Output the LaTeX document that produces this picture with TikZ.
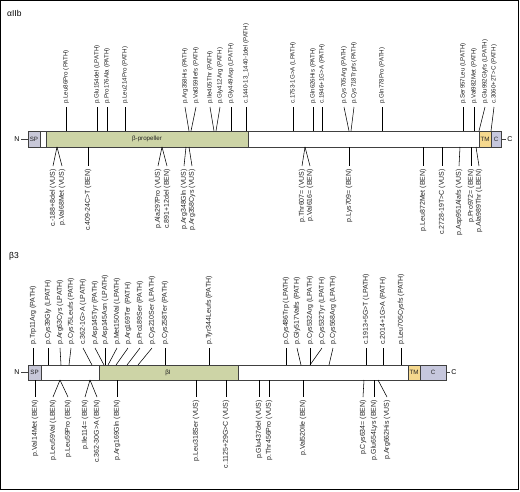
\documentclass[tikz,border=0pt]{standalone}
\usepackage{fontspec}
\setmainfont{Liberation Sans}
\usetikzlibrary{calc}
\definecolor{spcol}{HTML}{C8C8D8}
\definecolor{greencol}{HTML}{CDD4A6}
\definecolor{tmcol}{HTML}{F5D88E}
\definecolor{ccol}{HTML}{C6C7DD}
\definecolor{barline}{HTML}{404040}
\definecolor{txtcol}{HTML}{222222}
\begin{document}
\begin{tikzpicture}[x=1pt,y=-1pt,
  lab/.style={font=\fontsize{7}{8}\selectfont, text=txtcol, rotate=90, inner sep=0pt, inner xsep=3pt},
  smalllab/.style={lab, font=\fontsize{6.2}{7}\selectfont},
  toplab/.style={lab, anchor=west},
  atoplab/.style={smalllab, anchor=west},
  botlab/.style={lab, anchor=east},
  conn/.style={draw=black, line width=0.55pt},
  seg/.style={draw=barline, line width=0.6pt},
  boxtxt/.style={font=\fontsize{6.2}{7}\selectfont, text=txtcol, inner sep=0pt},
  endtxt/.style={font=\fontsize{7}{8}\selectfont, inner sep=0pt},
  title/.style={font=\fontsize{8.5}{9}\selectfont, anchor=west, inner sep=0pt}]
\useasboundingbox (0,0) rectangle (520,491);
\draw[line width=1pt] (0.5,0.5) rectangle (518,489);
% ---------- alpha IIb ----------
\node[title] (ta) at (7,13) {αIIb};
\node[endtxt] (na) at (17,139) {N};
\node[endtxt] (ca) at (510,139) {C};
\draw[seg,fill=spcol] (28,131) rectangle (40,147);
\draw[seg,fill=white] (40,131) rectangle (46,147);
\draw[seg,fill=greencol] (46,131) rectangle (248,147);
\draw[seg,fill=white] (248,131) rectangle (479,147);
\draw[seg,fill=tmcol] (479,131) rectangle (491,147);
\draw[seg,fill=ccol] (491,131) rectangle (501,147);
\node[boxtxt] (spa) at (34,139) {SP};
\node[boxtxt] (bpa) at (147,139) {β-propeller};
\node[boxtxt] (tma) at (485,139) {TM};
\node[boxtxt] (cba) at (496,139) {C};
\coordinate (nae) at (28,139);
\coordinate (cae) at (501,139);
\draw[seg] ($(na.east)+(1.5,0)$) -- (nae);
\draw[seg] (cae) -- ($(ca.west)+(-1.5,0)$);
\foreach \bx/\lx/\t [count=\i] in {
 66/66/p.Leu86Pro (PATH),
 97/97/p.Glu154del (LPATH),
 107/107/p.Pro176Ala (PATH),
 125/125/p.Leu214Pro (PATH),
 189/185/p.Arg358His (PATH),
 191/196/p.Val359Ilefs (PATH),
 214/210/p.Ile405Thr (PATH),
 216/220/p.Gly412Arg (PATH),
 231/231/p.Gly449Asp (LPATH),
 246/246/c.1440-13\_1440-1del (PATH),
 293/293/c.1753-1G>A (LPATH),
 313/313/p.Gln626His (PATH),
 322/322/c.1946+1G>A (PATH),
 349/344/p.Cys705Arg (PATH),
 351/354/p.Cys718Trpfs (PATH),
 382/382/p.Gln778Pro (PATH),
 463/463/p.Ser957Leu (LPATH),
 474/474/p.Val982Met (PATH),
 479/485/p.Glu992Glyfs (LPATH),
 491/494/c.3060+2T>C (PATH)}{
  \coordinate (atb\i) at (\bx,131);
  \node[atoplab] (atl\i) at (\lx,107) {\t};
  \draw[conn] (atb\i) -- (atl\i.west);
}
\foreach \bx/\lx/\t [count=\i] in {
 57/53/c.-188+8del (VUS),
 57/62/p.Val68Met (VUS),
 88/88/c.409-24C>T (BEN),
 162/158/p.Ala297Pro (VUS),
 162/167/c.891+12del (BEN),
 186/184/p.Arg348Gln (VUS),
 189/192/p.Arg358Cys (VUS),
 305/302/p.Thr607= (VUS),
 305/310/p.Val616= (BEN),
 349/349/p.Lys709= (BEN),
 423/423/p.Leu872Met (BEN),
 442/442/c.2728-19T>C (VUS),
 460/459/p.Asp951Alafs (VUS),
 471/471/p.Pro972= (BEN),
 476/479/p.Ala989Thr (LBEN)}{
  \coordinate (abb\i) at (\bx,147);
  \node[botlab] (abl\i) at (\lx,166) {\t};
  \draw[conn] (abb\i) -- (abl\i.east);
}
% ---------- beta 3 ----------
\node[title] (tb) at (9,256) {β3};
\node[endtxt] (nb) at (17,372) {N};
\node[endtxt] (cb) at (454,372) {C};
\draw[seg,fill=spcol] (28,365) rectangle (41,380);
\draw[seg,fill=white] (41,365) rectangle (99,380);
\draw[seg,fill=greencol] (99,365) rectangle (238,380);
\draw[seg,fill=white] (238,365) rectangle (408,380);
\draw[seg,fill=tmcol] (408,365) rectangle (420,380);
\draw[seg,fill=ccol] (420,365) rectangle (446,380);
\node[boxtxt] (spb) at (34.5,372.5) {SP};
\node[boxtxt] (bib) at (168,372.5) {βI};
\node[boxtxt] (tmb) at (414,372.5) {TM};
\node[boxtxt] (cbb) at (433,372.5) {C};
\coordinate (nbe) at (28,372);
\coordinate (cbe) at (446,372);
\draw[seg] ($(nb.east)+(1.5,0)$) -- (nbe);
\draw[seg] (cbe) -- ($(cb.west)+(-1.5,0)$);
\foreach \bx/\lx/\t [count=\i] in {
 33/33/p.Trp11Arg (PATH),
 48/48/p.Cys39Gly (LPATH),
 61/60/p.Arg63Cys (LPATH),
 69/71/p.Cys75Leufs (PATH),
 92/83/c.362-1G>A (LPATH),
 104/95/p.Asp145Tyr (PATH),
 105/105/p.Asp145Asn (LPATH),
 108/117/p.Met150Val (LPATH),
 116/128/p.Arg169Ter (PATH),
 127/140/p.Pro189Ser (PATH),
 138/152/p.Cys210Ser (LPATH),
 165/165/p.Cys258Ter (PATH),
 209/209/p.Tyr344Leufs (PATH),
 286/286/p.Cys486Trp (LPATH),
 301/297/p.Gly517Valfs (PATH),
 310/310/p.Cys532Arg (LPATH),
 310/322/p.Cys532Tyr (LPATH),
 329/333/p.Cys568Arg (LPATH),
 366/366/c.1913+5G>T (LPATH),
 383/383/c.2014+1G>A (PATH),
 401/401/p.Leu705Cysfs (PATH)}{
  \coordinate (btb\i) at (\bx,365);
  \node[toplab] (btl\i) at (\lx,348) {\t};
  \draw[conn] (btb\i) -- (btl\i.west);
}
\foreach \bx/\lx/\t [count=\i] in {
 35/35/p.Val14Met (BEN),
 60/53/p.Leu59Val (LBEN),
 60/68/p.Leu59Pro (BEN),
 90/85/p.Ile114= (BEN),
 90/97/c.362-30G>A (BEN),
 117/117/p.Arg169Gln (BEN),
 196/196/p.Leu318Ser (VUS),
 226/226/c.1125+29G>C (VUS),
 259/259/p.Glu437del (VUS),
 269/269/p.Thr456Pro (VUS),
 303/303/p.Val520Ile (BEN),
 364/363/p.Cys634= (BEN),
 374/374/p.Glu654Lys (BEN),
 378/387/p.Arg662His (VUS)}{
  \coordinate (bbb\i) at (\bx,380);
  \node[botlab] (bbl\i) at (\lx,397) {\t};
  \draw[conn] (bbb\i) -- (bbl\i.east);
}
\end{tikzpicture}
\end{document}
